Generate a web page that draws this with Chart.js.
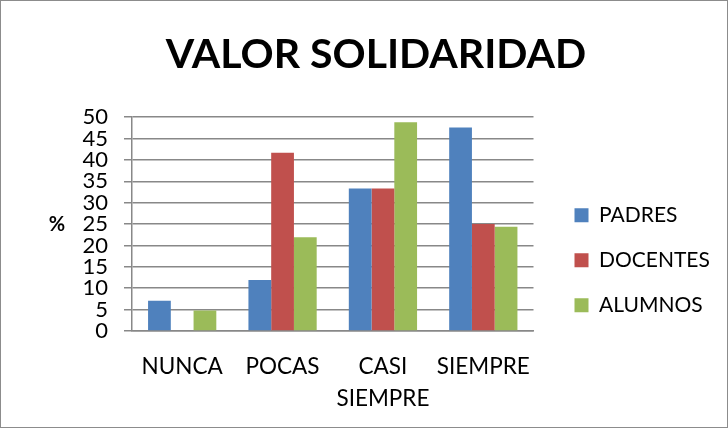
<!DOCTYPE html>
<html lang="es">
<head>
  <meta charset="UTF-8" />
  <title>Valor Solidaridad</title>
  <script src="https://cdn.jsdelivr.net/npm/chart.js"></script>
  <style>
    html, body { margin: 0; padding: 0; background: #fff; }
    .box {
      width: 728px;
      height: 428px;
      box-sizing: border-box;
      border: 1px solid #8c8c8c;
      position: relative;
    }
    canvas { display: block; }
  </style>
</head>
<body>
<div class="box">
  <canvas id="chart" width="726" height="426"></canvas>
</div>

<script>
// datos
const categorias = [['NUNCA'], ['POCAS'], ['CASI', 'SIEMPRE'], ['SIEMPRE']];
const padres = [7.1, 11.9, 33.3, 47.6];
const docentes = [0, 41.7, 33.3, 25.0];
const alumnos = [4.8, 21.9, 48.8, 24.4];
const yTicks = [0, 5, 10, 15, 20, 25, 30, 35, 40, 45, 50];

const fuente = "Lato, 'Open Sans', sans-serif";

// "%" a la izquierda del eje, sin rotar
const etiquetaY = {
  id: 'etiquetaY',
  afterDraw(chart) {
    const c = chart.ctx;
    const y = chart.scales.y;
    c.save();
    c.font = 'bold 20px ' + fuente;
    c.fillStyle = '#000';
    c.textAlign = 'center';
    c.textBaseline = 'middle';
    c.fillText('%', 56, (y.top + y.bottom) / 2);
    c.restore();
  }
};

// deja más aire entre el gráfico y la leyenda (y sitio para el texto)
const huecoLeyenda = {
  id: 'huecoLeyenda',
  afterLayout(chart) {
    chart.legend.left += 17;
    chart.legend.right += 35;
  }
};

new Chart(document.getElementById('chart'), {
  type: 'bar',
  data: {
    labels: categorias,
    datasets: [
      { label: 'PADRES', data: padres, backgroundColor: '#4F81BD' },
      { label: 'DOCENTES', data: docentes, backgroundColor: '#C0504D' },
      { label: 'ALUMNOS', data: alumnos, backgroundColor: '#9BBB59' }
    ]
  },
  options: {
    responsive: false,
    animation: false,
    categoryPercentage: 0.68,
    barPercentage: 1.0,
    layout: { padding: { left: 60, right: 36, top: 8, bottom: 4 } },
    plugins: {
      title: {
        display: true,
        text: 'VALOR SOLIDARIDAD',
        color: '#000',
        font: { family: fuente, size: 41, weight: 'bold' },
        padding: { top: 21, bottom: 38 }
      },
      legend: {
        position: 'right',
        title: { display: true, text: ' ', padding: { top: 37, bottom: 37 } },
        labels: {
          color: '#000',
          font: { family: fuente, size: 21 },
          boxWidth: 14,
          boxHeight: 14,
          padding: 24
        }
      },
      tooltip: { enabled: false }
    },
    scales: {
      x: {
        grid: { display: false, drawTicks: false },
        border: { display: true, color: '#888', width: 1.5 },
        ticks: { color: '#000', font: { family: fuente, size: 22.5, lineHeight: 1.45 }, padding: 19 },
        afterFit(s) { s.height = 92; }
      },
      y: {
        min: 0,
        max: 50,
        afterBuildTicks(axis) { axis.ticks = yTicks.map(v => ({ value: v })); },
        grid: { color: '#888', lineWidth: 1.5, tickLength: 8 },
        border: { display: true, color: '#888', width: 1.5 },
        ticks: { color: '#000', font: { family: fuente, size: 22, lineHeight: 1 }, padding: 16, autoSkip: false },
        afterFit(s) { s.width = 71; }
      }
    }
  },
  plugins: [etiquetaY, huecoLeyenda]
});
</script>
</body>
</html>
